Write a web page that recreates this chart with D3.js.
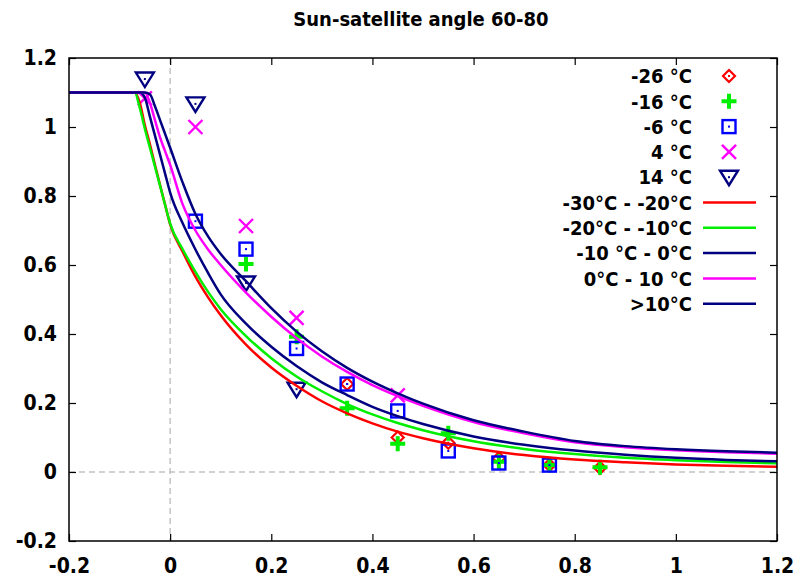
<!DOCTYPE html>
<html><head><meta charset="utf-8">
<script src="https://cdn.jsdelivr.net/npm/d3@7"></script>
<style>
body{margin:0;background:#fff;}
text{font-family:"DejaVu Sans Condensed","DejaVu Sans",sans-serif;font-stretch:condensed;font-weight:700;fill:#000;}
</style></head>
<body><svg id="c" width="807" height="578"></svg>
<script>
const titleText = "Sun-satellite angle 60-80";
const xTicks = [-0.2, 0, 0.2, 0.4, 0.6, 0.8, 1, 1.2];
const yTicks = [-0.2, 0, 0.2, 0.4, 0.6, 0.8, 1, 1.2];

// scatter series
const ptLabels = ["-26 °C", "-16 °C", "-6 °C", "4 °C", "14 °C"];
const ptColors = ["#ff0000", "#00ee00", "#0000ff", "#ff00ff", "#000080"];
const ptShapes = ["diamond", "plus", "square", "cross", "triangle"];
const ptX_m26 = [0.35, 0.45, 0.55, 0.65, 0.75, 0.85];
const ptY_m26 = [0.255, 0.10, 0.085, 0.04, 0.02, 0.012];
const ptX_m16 = [0.15, 0.25, 0.35, 0.45, 0.55, 0.65, 0.75, 0.85];
const ptY_m16 = [0.603, 0.392, 0.185, 0.082, 0.112, 0.03, 0.02, 0.014];
const ptX_m6 = [0.05, 0.15, 0.25, 0.35, 0.45, 0.55, 0.65, 0.75];
const ptY_m6 = [0.727, 0.646, 0.358, 0.255, 0.177, 0.061, 0.026, 0.02];
const ptX_p4 = [-0.05, 0.05, 0.15, 0.25, 0.45];
const ptY_p4 = [1.083, 1.0, 0.713, 0.447, 0.222];
const ptX_p14 = [-0.05, 0.05, 0.15, 0.25];
const ptY_p14 = [1.139, 1.067, 0.548, 0.24];

// fitted curves
const lnLabels = ["-30°C - -20°C", "-20°C - -10°C", "-10 °C - 0°C", "0°C - 10 °C", ">10°C"];
const lnColors = ["#ff0000", "#00ee00", "#000080", "#ff00ff", "#000080"];
const curveX = [-0.2, -0.07, -0.06, -0.05, -0.04, -0.03, -0.02, -0.01, 0, 0.025, 0.05, 0.075, 0.1, 0.15, 0.2, 0.25, 0.3, 0.35, 0.4, 0.45, 0.5, 0.6, 0.7, 0.8, 0.9, 1.0, 1.1, 1.2];
const curveRed   = [1.1, 1.1, 1.07, 1.005, 0.95, 0.89, 0.832, 0.775, 0.718, 0.638, 0.566, 0.506, 0.454, 0.369, 0.303, 0.25, 0.205, 0.17, 0.141, 0.117, 0.098, 0.069, 0.049, 0.036, 0.028, 0.022, 0.018, 0.015];
const curveGreen = [1.1, 1.1, 1.055, 0.995, 0.94, 0.885, 0.83, 0.774, 0.72, 0.645, 0.58, 0.522, 0.472, 0.394, 0.33, 0.277, 0.234, 0.197, 0.167, 0.142, 0.121, 0.089, 0.067, 0.052, 0.041, 0.034, 0.029, 0.025];
const curveBlue  = [1.1, 1.1, 1.1, 1.085, 1.03, 0.975, 0.92, 0.865, 0.81, 0.72, 0.645, 0.577, 0.515, 0.43, 0.363, 0.307, 0.26, 0.223, 0.189, 0.162, 0.139, 0.103, 0.079, 0.062, 0.05, 0.041, 0.035, 0.031];
const curveMag   = [1.1, 1.1, 1.1, 1.1, 1.07, 1.02, 0.97, 0.93, 0.89, 0.775, 0.7, 0.645, 0.6, 0.52, 0.45, 0.388, 0.335, 0.29, 0.252, 0.22, 0.192, 0.145, 0.112, 0.086, 0.072, 0.063, 0.057, 0.053];
const curveNavy  = [1.1, 1.1, 1.1, 1.1, 1.095, 1.06, 1.02, 0.98, 0.94, 0.838, 0.748, 0.683, 0.632, 0.553, 0.475, 0.407, 0.35, 0.302, 0.262, 0.228, 0.198, 0.15, 0.117, 0.09, 0.075, 0.066, 0.06, 0.056];

const svg = d3.select("#c");
const L = 69, R = 777, T = 58, B = 541;
const x = d3.scaleLinear().domain([-0.2, 1.2]).range([L, R]);
const y = d3.scaleLinear().domain([-0.2, 1.2]).range([B, T]);
const fmt = d => d === 0 ? "0" : String(+d.toFixed(1));
const FONT = "'DejaVu Sans Condensed','DejaVu Sans',sans-serif";

// zero axes
svg.append("line").attr("x1", x(0)).attr("x2", x(0)).attr("y1", T).attr("y2", B)
  .attr("stroke", "#c4c4c4").attr("stroke-width", 1.5).attr("stroke-dasharray", "6,4");
svg.append("line").attr("x1", L).attr("x2", R).attr("y1", y(0)).attr("y2", y(0))
  .attr("stroke", "#c4c4c4").attr("stroke-width", 1.5).attr("stroke-dasharray", "6,4");

// axes
const ax = (g, a) => { g.call(a); g.select(".domain").remove(); g.selectAll("line").attr("stroke", "#000").attr("stroke-width", 1.2); g.selectAll("text").style("font-size", "21px").style("font-family", FONT).style("font-stretch", "condensed").style("font-weight", 700); };
svg.append("g").attr("transform", `translate(0,${B})`).call(g => ax(g, d3.axisBottom(x).tickValues(xTicks).tickFormat(fmt).tickSize(-7).tickPadding(17)));
svg.append("g").attr("transform", `translate(0,${T})`).call(g => ax(g, d3.axisTop(x).tickValues(xTicks).tickFormat("").tickSize(-7)));
svg.append("g").attr("transform", `translate(${L},0)`).call(g => ax(g, d3.axisLeft(y).tickValues(yTicks).tickFormat(fmt).tickSize(-7).tickPadding(12)));
svg.append("g").attr("transform", `translate(${R},0)`).call(g => ax(g, d3.axisRight(y).tickValues(yTicks).tickFormat("").tickSize(-7)));

// markers
function marker(g, cx, cy, shape, color) {
  const s = g.append("g").attr("transform", `translate(${cx},${cy})`);
  const dot = () => s.append("rect").attr("x", -1).attr("y", -1).attr("width", 2).attr("height", 2).attr("fill", color);
  if (shape === "diamond") { s.append("path").attr("d", "M0,-6L6,0L0,6L-6,0Z").attr("fill", "none").attr("stroke", color).attr("stroke-width", 2.2); dot(); }
  if (shape === "plus") { s.append("path").attr("d", "M-7.5,0H7.5M0,-7.5V7.5").attr("stroke", color).attr("stroke-width", 4); }
  if (shape === "square") { s.append("rect").attr("x", -6.5).attr("y", -6.5).attr("width", 13).attr("height", 13).attr("fill", "none").attr("stroke", color).attr("stroke-width", 2.4); dot(); }
  if (shape === "cross") { s.append("path").attr("d", "M-7,-7L7,7M-7,7L7,-7").attr("stroke", color).attr("stroke-width", 2.4); }
  if (shape === "triangle") { s.append("path").attr("d", "M-9,-6.5L9,-6.5L0,8Z").attr("fill", "none").attr("stroke", color).attr("stroke-width", 2.4).attr("stroke-linejoin", "miter"); dot(); }
}
const ptSeries = [[ptX_m26, ptY_m26], [ptX_m16, ptY_m16], [ptX_m6, ptY_m6], [ptX_p4, ptY_p4], [ptX_p14, ptY_p14]];
const mg = svg.append("g");
ptSeries.forEach((s, i) => s[0].forEach((xv, j) => marker(mg, x(xv), y(s[1][j]), ptShapes[i], ptColors[i])));

// curves
const curves = [curveRed, curveGreen, curveBlue, curveMag, curveNavy];
const line = d3.line().x((d, i) => x(curveX[i])).y(d => y(d)).curve(d3.curveMonotoneX);
curves.forEach((c, i) => svg.append("path").attr("d", line(c)).attr("fill", "none").attr("stroke", lnColors[i]).attr("stroke-width", 2.5));

// frame
svg.append("rect").attr("x", L).attr("y", T).attr("width", R - L).attr("height", B - T).attr("fill", "none").attr("stroke", "#000").attr("stroke-width", 1.5);

// title
svg.append("text").attr("x", 421).attr("y", 26).attr("text-anchor", "middle").style("font-size", "20px").text(titleText);

// legend
const lg = svg.append("g");
const rowY = i => 76 + i * 25.3;
ptLabels.forEach((t, i) => {
  lg.append("text").attr("x", 692).attr("y", rowY(i)).attr("dy", "0.36em").attr("text-anchor", "end").style("font-size", "20px").text(t);
  marker(lg, 729, rowY(i), ptShapes[i], ptColors[i]);
});
lnLabels.forEach((t, k) => {
  const i = k + 5;
  lg.append("text").attr("x", 692).attr("y", rowY(i)).attr("dy", "0.36em").attr("text-anchor", "end").style("font-size", "20px").text(t);
  lg.append("line").attr("x1", 703).attr("x2", 756).attr("y1", rowY(i)).attr("y2", rowY(i)).attr("stroke", lnColors[k]).attr("stroke-width", 2.5);
});
</script></body></html>
